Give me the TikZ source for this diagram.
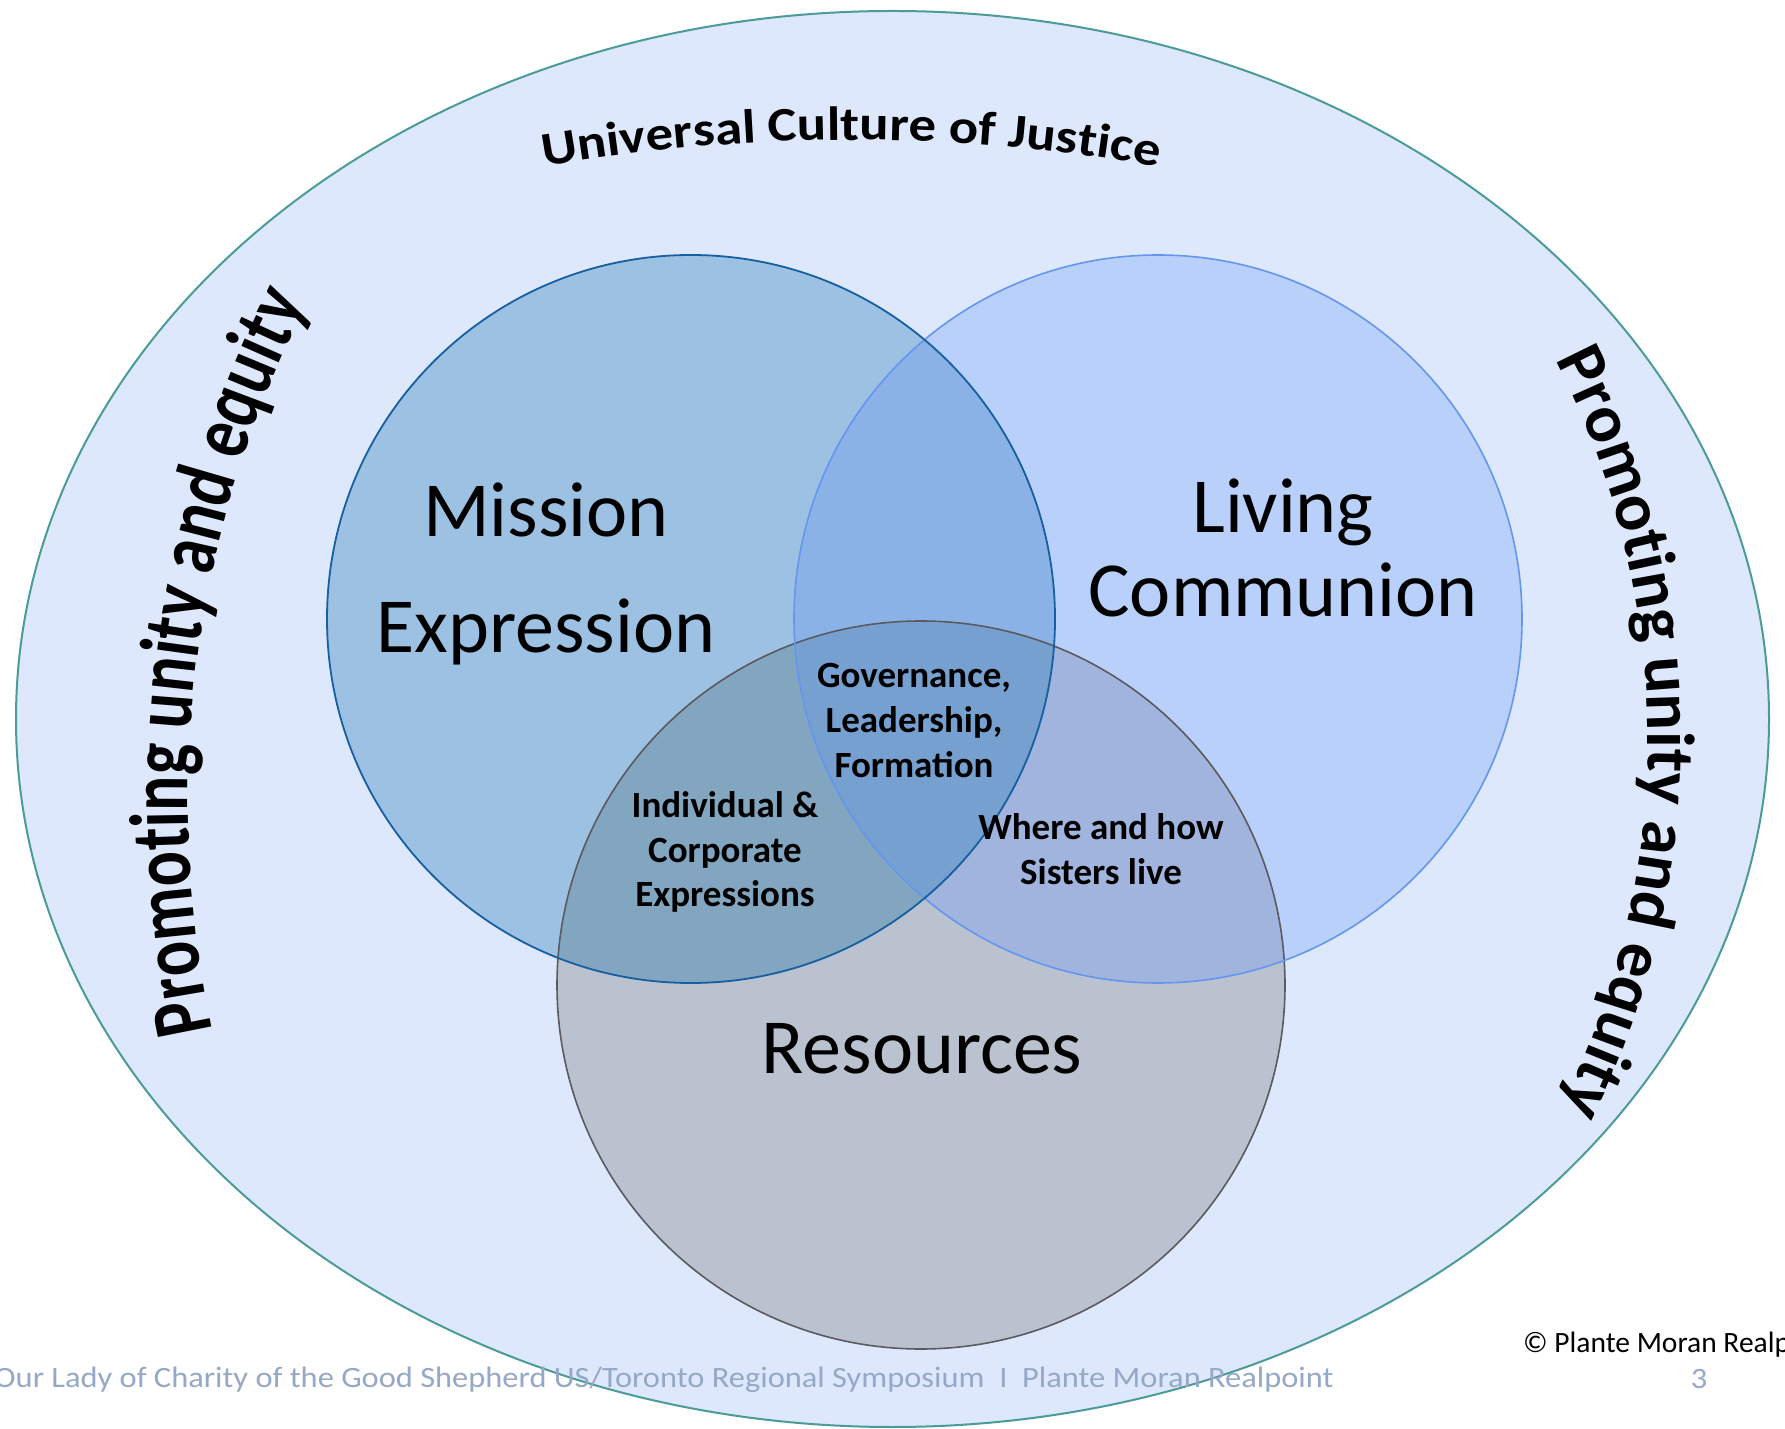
\documentclass[tikz,border=0pt]{standalone}
\usepackage{fontspec}
\setmainfont{Carlito}
\newfontfamily\topfont[FakeStretch=1.14]{Carlito}
\newfontfamily\leftfont[FakeStretch=0.78]{Carlito}
\newfontfamily\footfont[FakeStretch=1.1]{Carlito}
\usetikzlibrary{decorations.text}
\definecolor{outerfill}{RGB}{222,232,252}
\definecolor{outerdraw}{RGB}{75,155,150}
\definecolor{mfill}{RGB}{157,193,227}
\definecolor{mdraw}{RGB}{22,95,160}
\definecolor{lfill}{RGB}{184,208,250}
\definecolor{ldraw}{RGB}{100,150,240}
\definecolor{rfill}{RGB}{186,194,208}
\definecolor{rdraw}{RGB}{90,90,95}
\definecolor{mlfill}{RGB}{138,178,230}
\definecolor{mrfill}{RGB}{130,165,192}
\definecolor{lrfill}{RGB}{160,180,222}
\definecolor{mlrfill}{RGB}{118,160,208}
\definecolor{footgray}{RGB}{150,168,200}
\tikzset{
  bigtxt/.style={inner sep=0pt, anchor=base, font=\fontsize{78}{90}\selectfont},
  smalltxt/.style={inner sep=0pt, anchor=base, font=\bfseries\fontsize{37}{44}\selectfont},
  foot/.style={inner sep=0pt, text=footgray, font=\footfont\fontsize{29.5}{34}\selectfont},
}
\begin{document}
\begin{tikzpicture}[x=1pt,y=1pt]
\useasboundingbox[fill=white] (0,0) rectangle (1785,1428);
% centres
\coordinate (O) at (892.5,709);
\coordinate (M) at (691,809);
\coordinate (L) at (1158,809);
\coordinate (R) at (921,443);
% outer ellipse
\draw[fill=outerfill, draw=outerdraw, line width=2pt] (O) ellipse [x radius=876.5pt, y radius=708pt];
% circle fills
\fill[mfill] (M) circle [radius=364pt];
\fill[lfill] (L) circle [radius=364pt];
\fill[rfill] (R) circle [radius=364pt];
\begin{scope}
  \clip (M) circle [radius=364pt];
  \fill[mlfill] (L) circle [radius=364pt];
\end{scope}
\begin{scope}
  \clip (M) circle [radius=364pt];
  \fill[mrfill] (R) circle [radius=364pt];
\end{scope}
\begin{scope}
  \clip (L) circle [radius=364pt];
  \fill[lrfill] (R) circle [radius=364pt];
\end{scope}
\begin{scope}
  \clip (M) circle [radius=364pt];
  \clip (L) circle [radius=364pt];
  \fill[mlrfill] (R) circle [radius=364pt];
\end{scope}
% circle outlines
\draw[rdraw, line width=1.6pt] (R) circle [radius=364pt];
\draw[ldraw, line width=1.6pt] (L) circle [radius=364pt];
\draw[mdraw, line width=1.8pt] (M) circle [radius=364pt];
% curved texts
\path[decorate, decoration={text along path, text align=center,
  text={|\topfont\bfseries\fontsize{48}{48}\selectfont|Universal Culture of Justice}}]
  (851,-482) ++(105:1770pt) arc [start angle=105, end angle=75, radius=1770pt];
\path[decorate, decoration={text along path, text align=center,
  text={|\leftfont\bfseries\fontsize{84}{84}\selectfont|Promoting unity and equity}}]
  (1278,628) ++(212.3:1090pt) arc [start angle=212.3, end angle=132.8, radius=1090pt];
\path[decorate, decoration={text along path, text align=center,
  text={|\bfseries\fontsize{68}{68}\selectfont|Promoting unity and equity}}]
  (826,688) ++(45:822pt) arc [start angle=45, end angle=-44, radius=822pt];
% labels
\node[bigtxt] (mis1) at (546,891) {Mission};
\node[bigtxt] (mis2) at (546,775) {Expression};
\node[bigtxt] (liv1) at (1283,895) {Living};
\node[bigtxt] (liv2) at (1283,811) {Communion};
\node[bigtxt] (res) at (922,355) {Resources};
\node[smalltxt] (gov1) at (914,740) {Governance,};
\node[smalltxt] (gov2) at (914,695) {Leadership,};
\node[smalltxt] (gov3) at (914,650) {Formation};
\node[smalltxt] (ind1) at (725,610) {Individual \&};
\node[smalltxt] (ind2) at (725,565) {Corporate};
\node[smalltxt] (ind3) at (725,521) {Expressions};
\node[smalltxt] (whe1) at (1101,588) {Where and how};
\node[smalltxt] (whe2) at (1101,543) {Sisters live};
% footer
\node[foot, anchor=base east] (footl) at (1334,41) {Our Lady of Charity of the Good Shepherd US/Toronto Regional Symposium\enspace I\enspace Plante Moran Realpoint};
\node[foot, anchor=base] (pnum) at (1699,40) {3};
\node[inner sep=0pt, anchor=base west, font=\fontsize{29.5}{32}\selectfont] (copy) at (1523,76) {© Plante Moran Realp};
\end{tikzpicture}
\end{document}
